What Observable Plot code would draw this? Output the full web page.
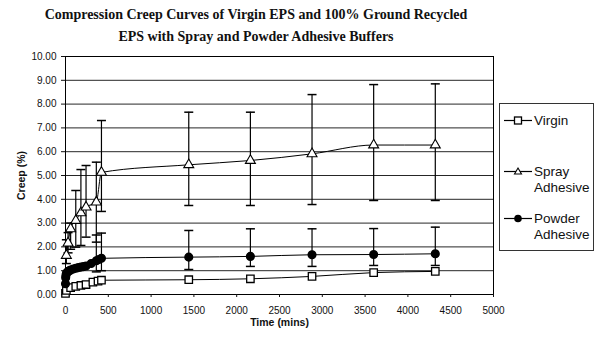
<!DOCTYPE html>
<html>
<head>
<meta charset="utf-8">
<script src="https://cdn.jsdelivr.net/npm/d3@7"></script>
<script src="https://cdn.jsdelivr.net/npm/@observablehq/plot@0.6"></script>
<style>
  html, body { margin: 0; padding: 0; background: #fff; }
  #wrap { position: relative; width: 597px; height: 337px; overflow: hidden; }
  #title { width: 512px; height: 50px; box-sizing: border-box; padding-top: 4px; text-align: center;
           font: bold 14px "Liberation Serif", "Times New Roman", serif; line-height: 21.5px; color: #111; }
  #legend { position: absolute; left: 499px; top: 103px; width: 95px; height: 148px; border: 1px solid #333;
            font: 13.5px "Liberation Sans", Arial, sans-serif; color: #111; box-sizing: border-box; }
  .item { position: absolute; left: 4px; display: flex; align-items: flex-start; }
  .item svg { flex: none; }
  .item span { line-height: 16px; margin-left: 1px; }
  svg [aria-label="x-axis label"] text, svg [aria-label="y-axis label"] text,
  svg g[aria-label="x-axis label"], svg g[aria-label="y-axis label"] { font-weight: bold; font-size: 10.5px; }
</style>
</head>
<body>
<div id="wrap">
  <div id="title">Compression Creep Curves of Virgin EPS and 100% Ground Recycled<br>EPS with Spray and Powder Adhesive Buffers</div>
  <div id="chart"></div>
  <div id="legend"></div>
</div>
<script>
// ---- data ----
const xTicks = [0, 500, 1000, 1500, 2000, 2500, 3000, 3500, 4000, 4500, 5000];
const yTicks = [0, 1, 2, 3, 4, 5, 6, 7, 8, 9, 10];
const seriesNames = ["Virgin", "Spray Adhesive", "Powder Adhesive"];

const virginTime  = [0, 10, 60, 120, 180, 240, 320, 380, 420, 1440, 2160, 2880, 3600, 4320];
const virginCreep = [0.05, 0.17, 0.29, 0.34, 0.38, 0.42, 0.52, 0.56, 0.6, 0.62, 0.66, 0.76, 0.92, 0.97];

const sprayTime  = [10, 30, 60, 120, 180, 240, 360, 420, 1440, 2160, 2880, 3600, 4320];
const sprayCreep = [1.64, 2.16, 2.76, 3.11, 3.43, 3.67, 3.88, 5.13, 5.45, 5.63, 5.91, 6.28, 6.28];
const sprayLow   = [1.3, 1.75, 1.9, 1.99, 2.06, 2.41, 2.2, 3.49, 3.74, 3.74, 3.78, 3.95, 3.95];
const sprayHigh  = [2.3, 2.6, 3.0, 4.37, 5.25, 5.42, 5.56, 7.31, 7.66, 7.66, 8.4, 8.82, 8.85];

const powderTime  = [0, 2, 5, 10, 15, 30, 45, 60, 90, 120, 150, 180, 210, 240, 300, 360, 390, 420, 1440, 2160, 2880, 3600, 4320];
const powderCreep = [0.45, 0.7, 0.8, 0.88, 0.92, 0.97, 1.0, 1.03, 1.07, 1.1, 1.13, 1.15, 1.17, 1.2, 1.3, 1.42, 1.47, 1.52, 1.57, 1.6, 1.67, 1.68, 1.71];
const powderLow   = [null, null, null, null, null, null, null, null, null, null, null, null, null, null, null, 0.95, null, 1.0, 1.05, 1.18, 1.18, 1.22, 1.22];
const powderHigh  = [null, null, null, null, null, null, null, null, null, null, null, null, null, null, null, 2.5, null, 2.58, 2.69, 2.76, 2.76, 2.77, 2.83];

// ---- tables ----
const virgin = virginTime.map((t, i) => ({t, v: virginCreep[i]}));
const spray = sprayTime.map((t, i) => ({t, v: sprayCreep[i], low: sprayLow[i], high: sprayHigh[i]}));
const powder = powderTime.map((t, i) => ({t, v: powderCreep[i], low: powderLow[i], high: powderHigh[i]}));
const sprayErr = spray.filter(d => d.low != null);
const powderErr = powder.filter(d => d.low != null);

// horizontal cap symbol for error bars
const cap = { draw(ctx) { ctx.moveTo(-4.5, 0); ctx.lineTo(4.5, 0); } };

const chart = Plot.plot({
  width: 597,
  height: 287,
  marginTop: 6,
  marginBottom: 43,
  marginLeft: 65,
  marginRight: 104,
  style: { fontFamily: "'Liberation Sans', Arial, sans-serif", fontSize: "10px", color: "#111", background: "#fff" },
  x: { domain: [0, 5000] },
  y: { domain: [0, 10] },
  marks: [
    Plot.gridY(yTicks, { stroke: "#000", strokeOpacity: 0.85 }),
    Plot.frame({ stroke: "#000" }),
    Plot.axisX({ ticks: xTicks, tickSize: 3, tickPadding: 9, tickFormat: d3.format("d"),
                 label: "Time (mins)", labelAnchor: "center", labelArrow: "none", labelOffset: 31 }),
    Plot.axisY({ ticks: yTicks, tickSize: 4, tickPadding: 5, tickFormat: d3.format(".2f"),
                 label: "Creep (%)", labelAnchor: "center", labelArrow: "none", labelOffset: 48 }),
    // error bars
    Plot.ruleX(sprayErr, { x: "t", y1: "low", y2: "high", stroke: "#000", strokeWidth: 1.2 }),
    Plot.dot(sprayErr, { x: "t", y: "low", symbol: cap, stroke: "#000", strokeWidth: 1.5, r: 4 }),
    Plot.dot(sprayErr, { x: "t", y: "high", symbol: cap, stroke: "#000", strokeWidth: 1.5, r: 4 }),
    Plot.ruleX(powderErr, { x: "t", y1: "low", y2: "high", stroke: "#000", strokeWidth: 1.2 }),
    Plot.dot(powderErr, { x: "t", y: "low", symbol: cap, stroke: "#000", strokeWidth: 1.5, r: 4 }),
    Plot.dot(powderErr, { x: "t", y: "high", symbol: cap, stroke: "#000", strokeWidth: 1.5, r: 4 }),
    // lines
    Plot.line(virgin, { x: "t", y: "v", curve: "monotone-x", stroke: "#000", strokeWidth: 1 }),
    Plot.line(spray, { x: "t", y: "v", curve: "monotone-x", stroke: "#000", strokeWidth: 1 }),
    Plot.line(powder, { x: "t", y: "v", curve: "monotone-x", stroke: "#000", strokeWidth: 1 }),
    // markers
    Plot.dot(virgin, { x: "t", y: "v", symbol: "square", r: 4.2, fill: "#fff", stroke: "#000", strokeWidth: 1.3 }),
    Plot.dot(spray, { x: "t", y: "v", symbol: "triangle", r: 3.7, fill: "#fff", stroke: "#000", strokeWidth: 1.1 }),
    Plot.dot(powder, { x: "t", y: "v", symbol: "circle", r: 3.8, fill: "#000", stroke: "#000" })
  ]
});
document.getElementById("chart").appendChild(chart);

// ---- legend ----
const legendSymbols = {
  "Virgin": '<rect x="10.5" y="4" width="7" height="7" fill="#fff" stroke="#000" stroke-width="1.3"/>',
  "Spray Adhesive": '<path d="M14,4 L17.5,10 L10.5,10 Z" fill="#fff" stroke="#000" stroke-width="1.1"/>',
  "Powder Adhesive": '<circle cx="14" cy="7.5" r="3.8" fill="#000"/>'
};
const legendTops = [9, 60, 107];
const legend = document.getElementById("legend");
seriesNames.forEach((name, i) => {
  const div = document.createElement("div");
  div.className = "item";
  div.style.top = legendTops[i] + "px";
  const words = name.split(" ");
  div.innerHTML = '<svg width="29" height="15"><line x1="0" y1="7.5" x2="28" y2="7.5" stroke="#000" stroke-width="1.2"/>' +
    legendSymbols[name] + '</svg><span>' + words.join("<br>") + '</span>';
  legend.appendChild(div);
});
</script>
</body>
</html>
